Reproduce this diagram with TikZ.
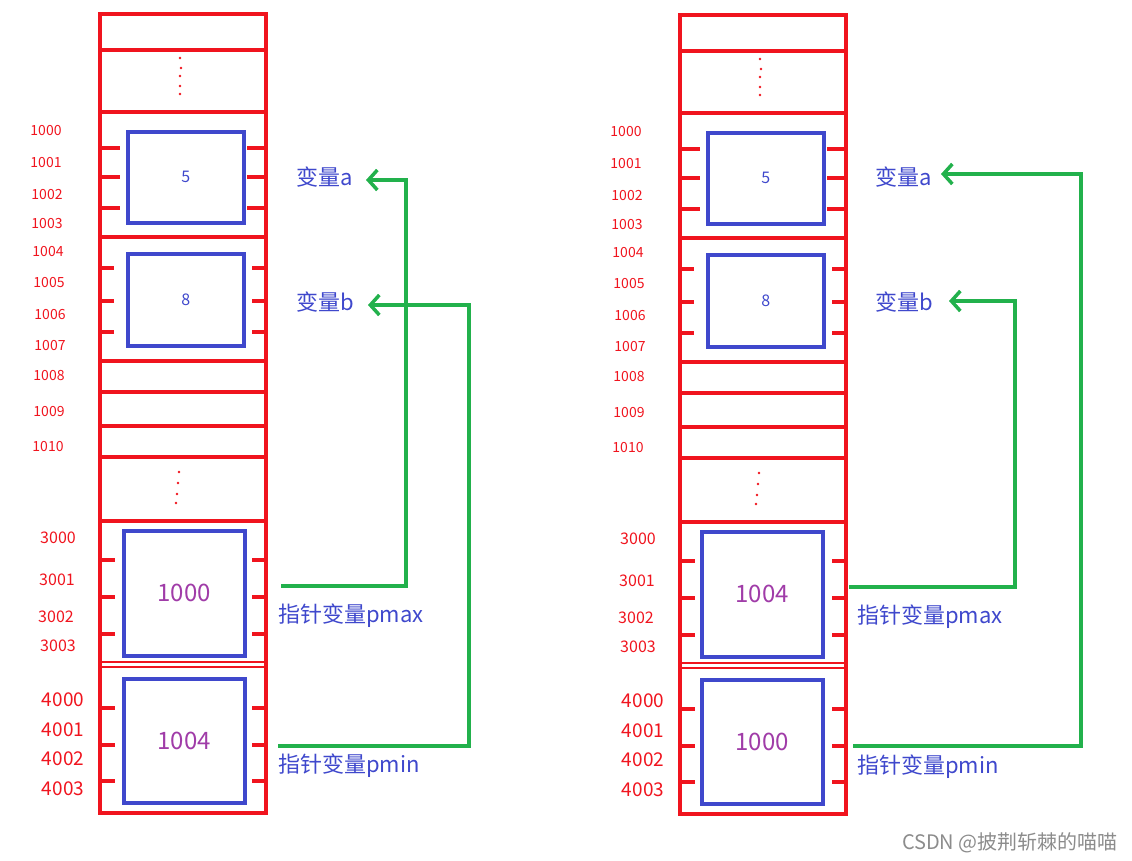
\documentclass[tikz,border=0pt]{standalone}
\usepackage{fontspec}
\setmainfont{Noto Sans CJK SC}
\usetikzlibrary{arrows.meta}
\definecolor{memred}{HTML}{F0141E}
\definecolor{boxblue}{HTML}{3F48CC}
\definecolor{valpurple}{HTML}{A03CA8}
\definecolor{pgreen}{HTML}{22B14C}
\tikzset{
  memline/.style={memred,line width=3.3pt},
  thinmem/.style={memred,line width=2pt},
  tick/.style={memred,line width=3.2pt},
  cell/.style={draw=boxblue,line width=3.6pt,inner sep=0pt,minimum width=116pt},
  addr/.style={text=memred,font=\fontsize{14}{14}\selectfont,inner sep=0pt},
  addrbig/.style={text=memred,font=\fontsize{19}{19}\selectfont,inner sep=0pt},
  val/.style={text=valpurple,font=\fontsize{24}{24}\selectfont,inner sep=0pt},
  smallval/.style={text=boxblue,font=\fontsize{16}{16}\selectfont,inner sep=0pt},
  vlabel/.style={text=boxblue,font=\fontsize{22}{22}\selectfont,inner sep=0pt,anchor=west},
  ptr/.style={pgreen,line width=3.8pt},
  ptrarrow/.style={ptr,-{Straight Barb[length=9pt,width=20pt,line width=3.5pt]}},
  memdot/.style={memred,fill=memred},
}
\newcommand{\memcol}[6]{%
% #1 dx, #2 dy, #3 prefix, #4 pmax value, #5 pmin value, #6 pointer box dx extra
\begin{scope}[shift={(#1,#2)}]
  \draw[memline] (100,14) rectangle (266,813);
  \foreach \yy in {50,112,237,361,392,426,457,521}
    \draw[memline] (100,\yy) -- (266,\yy);
  \foreach \yy in {662,667}
    \draw[thinmem] (100,\yy) -- (266,\yy);
  \foreach \xx/\yy in {180/58,181/68,180/76,180/86,180/94,179/472,178/483,177/494,176/503}
    \fill[memdot] (\xx,\yy) circle (1.4pt);
  % value cells
  \node[cell,minimum height=91pt,anchor=north west] (#3a) at (126,130) {};
  \node[smallval] at (#3a.center) {5};
  \node[cell,minimum height=92pt,anchor=north west] (#3b) at (126,252) {};
  \node[smallval] at (#3b.center) {8};
  \node[cell,minimum width=121pt,minimum height=125pt,anchor=north west] (#3pmax) at (122+#6,529) {};
  \node[val] at (#3pmax.center) {#4};
  \node[cell,minimum width=121pt,minimum height=124pt,anchor=north west] (#3pmin) at (122+#6,677) {};
  \node[val] at (#3pmin.center) {#5};
  % ticks
  \foreach \yy in {148,177,208}
    {\draw[tick] (100,\yy) -- (120,\yy); \draw[tick] (247,\yy) -- (266,\yy);}
  \foreach \yy in {268,301,332}
    {\draw[tick] (100,\yy) -- (114,\yy); \draw[tick] (252,\yy) -- (266,\yy);}
  \foreach \yy in {560,597,634,708,745,781}
    {\draw[tick] (100,\yy) -- (115,\yy); \draw[tick] (252,\yy) -- (266,\yy);}
  % addresses
  \foreach \n/\xx/\yy in {1000/46/131,1001/46/163,1002/47/195,1003/47/224,1004/48/252,1005/49/283,1006/50/315,1007/50/346,1008/49/376,1009/49/412,1010/48/446}
    \node[addr] (#3ad\n) at (\xx,\yy) {\n};
  \foreach \n/\xx/\yy in {3000/58/538,3001/57/580,3002/56/617,3003/58/646}
    \node[addr,font=\fontsize{16}{16}\selectfont] (#3ad\n) at (\xx,\yy) {\n};
  \foreach \n/\xx/\yy in {4000/63/700,4001/63/730,4002/63/759,4003/63/789}
    \node[addrbig] (#3ad\n) at (\xx,\yy) {\n};
\end{scope}}
\begin{document}
\begin{tikzpicture}[x=1pt,y=-1pt]
\useasboundingbox (0,0) rectangle (1132,860);
\memcol{0}{0}{L}{1000}{1004}{0}
\memcol{580}{1}{R}{1004}{1000}{-2}
% labels left
\node[vlabel] (Lva) at (296,177) {变量a};
\node[vlabel] (Lvb) at (296,302) {变量b};
\node[vlabel] (Lpmax) at (278,616) {指针变量pmax};
\node[vlabel] (Lpmin) at (278,766) {指针变量pmin};
% labels right
\node[vlabel] (Rva) at (875,177) {变量a};
\node[vlabel] (Rvb) at (875,302) {变量b};
\node[vlabel] (Rpmax) at (857,617) {指针变量pmax};
\node[vlabel] (Rpmin) at (857,767) {指针变量pmin};
% green pointer connectors, left
\coordinate (Lsmax) at (281,586);
\coordinate (Lcmax) at (406,180);
\coordinate (Ltipa) at (366,180);
\coordinate (Lsmin) at (278,746);
\coordinate (Lcmin) at (469,305);
\coordinate (Ltipb) at (368,305);
\draw[ptrarrow] (Lsmax) -| (Lcmax) -- (Ltipa);
\draw[ptrarrow] (Lsmin) -| (Lcmin) -- (Ltipb);
% right
\coordinate (Rsmax) at (849,587);
\coordinate (Rcmax) at (1015,301);
\coordinate (Rtipb) at (949,301);
\coordinate (Rsmin) at (853,746);
\coordinate (Rcmin) at (1081,174);
\coordinate (Rtipa) at (941,174);
\draw[ptrarrow] (Rsmax) -| (Rcmax) -- (Rtipb);
\draw[ptrarrow] (Rsmin) -| (Rcmin) -- (Rtipa);
% watermark
\node[text=black!45,font=\fontsize{20}{20}\selectfont,anchor=east,inner sep=0pt] (wm) at (1118,843) {CSDN @披荆斩棘的喵喵};
\end{tikzpicture}
\end{document}
